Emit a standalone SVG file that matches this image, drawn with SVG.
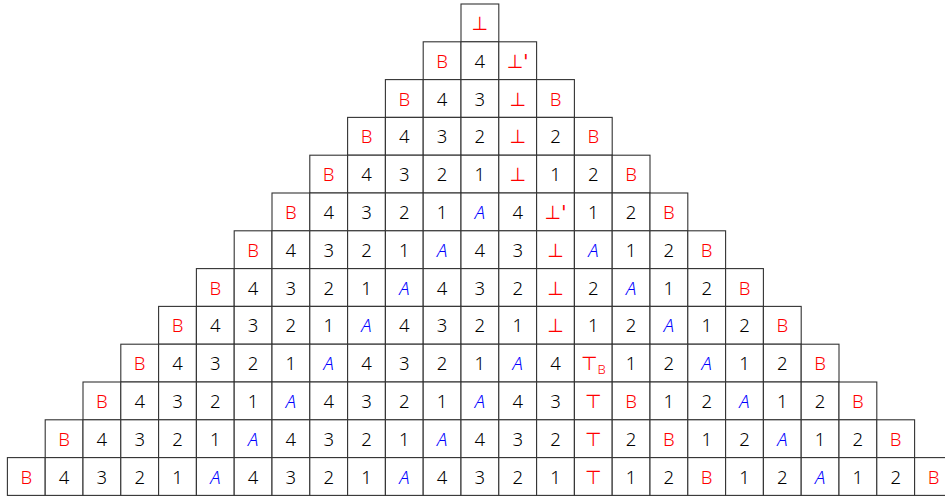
<svg xmlns="http://www.w3.org/2000/svg" width="945" height="497" viewBox="0 0 945 497">
<style>
.c{fill:#fff;stroke:#333;stroke-width:1.1}
text{font-family:"Noto Sans","DejaVu Sans",sans-serif;font-size:18.5px;font-weight:350;text-anchor:middle}
.k{fill:#000}
.r{fill:#f00}
.a{fill:#00f;font-style:italic}
.s{font-family:"DejaVu Sans",sans-serif;font-size:19px;font-weight:400}
.sub{font-size:13px;font-family:"Noto Sans",sans-serif;font-weight:350}
</style>
<rect width="945" height="497" fill="#fff"/>
<g id="row0" transform="translate(461,4)">
<g id="n0-0"><rect class="c" width="37.8" height="37.8"/><text class="r s" x="18.9" y="26">⊥</text></g>
</g>
<g id="row1" transform="translate(423.2,41.8)">
<g id="n1-0"><rect class="c" width="37.8" height="37.8"/><text class="r" x="18.9" y="26">B</text></g>
<g id="n1-1" transform="translate(37.8,0)"><rect class="c" width="37.8" height="37.8"/><text class="k" x="18.9" y="26">4</text></g>
<g id="n1-2" transform="translate(75.6,0)"><rect class="c" width="37.8" height="37.8"/><text class="r s" x="18.9" y="26">⊥'</text></g>
</g>
<g id="row2" transform="translate(385.4,79.6)">
<g id="n2-0"><rect class="c" width="37.8" height="37.8"/><text class="r" x="18.9" y="26">B</text></g>
<g id="n2-1" transform="translate(37.8,0)"><rect class="c" width="37.8" height="37.8"/><text class="k" x="18.9" y="26">4</text></g>
<g id="n2-2" transform="translate(75.6,0)"><rect class="c" width="37.8" height="37.8"/><text class="k" x="18.9" y="26">3</text></g>
<g id="n2-3" transform="translate(113.4,0)"><rect class="c" width="37.8" height="37.8"/><text class="r s" x="18.9" y="26">⊥</text></g>
<g id="n2-4" transform="translate(151.2,0)"><rect class="c" width="37.8" height="37.8"/><text class="r" x="18.9" y="26">B</text></g>
</g>
<g id="row3" transform="translate(347.6,117.4)">
<g id="n3-0"><rect class="c" width="37.8" height="37.8"/><text class="r" x="18.9" y="26">B</text></g>
<g id="n3-1" transform="translate(37.8,0)"><rect class="c" width="37.8" height="37.8"/><text class="k" x="18.9" y="26">4</text></g>
<g id="n3-2" transform="translate(75.6,0)"><rect class="c" width="37.8" height="37.8"/><text class="k" x="18.9" y="26">3</text></g>
<g id="n3-3" transform="translate(113.4,0)"><rect class="c" width="37.8" height="37.8"/><text class="k" x="18.9" y="26">2</text></g>
<g id="n3-4" transform="translate(151.2,0)"><rect class="c" width="37.8" height="37.8"/><text class="r s" x="18.9" y="26">⊥</text></g>
<g id="n3-5" transform="translate(189,0)"><rect class="c" width="37.8" height="37.8"/><text class="k" x="18.9" y="26">2</text></g>
<g id="n3-6" transform="translate(226.8,0)"><rect class="c" width="37.8" height="37.8"/><text class="r" x="18.9" y="26">B</text></g>
</g>
<g id="row4" transform="translate(309.8,155.2)">
<g id="n4-0"><rect class="c" width="37.8" height="37.8"/><text class="r" x="18.9" y="26">B</text></g>
<g id="n4-1" transform="translate(37.8,0)"><rect class="c" width="37.8" height="37.8"/><text class="k" x="18.9" y="26">4</text></g>
<g id="n4-2" transform="translate(75.6,0)"><rect class="c" width="37.8" height="37.8"/><text class="k" x="18.9" y="26">3</text></g>
<g id="n4-3" transform="translate(113.4,0)"><rect class="c" width="37.8" height="37.8"/><text class="k" x="18.9" y="26">2</text></g>
<g id="n4-4" transform="translate(151.2,0)"><rect class="c" width="37.8" height="37.8"/><text class="k" x="18.9" y="26">1</text></g>
<g id="n4-5" transform="translate(189,0)"><rect class="c" width="37.8" height="37.8"/><text class="r s" x="18.9" y="26">⊥</text></g>
<g id="n4-6" transform="translate(226.8,0)"><rect class="c" width="37.8" height="37.8"/><text class="k" x="18.9" y="26">1</text></g>
<g id="n4-7" transform="translate(264.6,0)"><rect class="c" width="37.8" height="37.8"/><text class="k" x="18.9" y="26">2</text></g>
<g id="n4-8" transform="translate(302.4,0)"><rect class="c" width="37.8" height="37.8"/><text class="r" x="18.9" y="26">B</text></g>
</g>
<g id="row5" transform="translate(272,193)">
<g id="n5-0"><rect class="c" width="37.8" height="37.8"/><text class="r" x="18.9" y="26">B</text></g>
<g id="n5-1" transform="translate(37.8,0)"><rect class="c" width="37.8" height="37.8"/><text class="k" x="18.9" y="26">4</text></g>
<g id="n5-2" transform="translate(75.6,0)"><rect class="c" width="37.8" height="37.8"/><text class="k" x="18.9" y="26">3</text></g>
<g id="n5-3" transform="translate(113.4,0)"><rect class="c" width="37.8" height="37.8"/><text class="k" x="18.9" y="26">2</text></g>
<g id="n5-4" transform="translate(151.2,0)"><rect class="c" width="37.8" height="37.8"/><text class="k" x="18.9" y="26">1</text></g>
<g id="n5-5" transform="translate(189,0)"><rect class="c" width="37.8" height="37.8"/><text class="a" x="18.9" y="26">A</text></g>
<g id="n5-6" transform="translate(226.8,0)"><rect class="c" width="37.8" height="37.8"/><text class="k" x="18.9" y="26">4</text></g>
<g id="n5-7" transform="translate(264.6,0)"><rect class="c" width="37.8" height="37.8"/><text class="r s" x="18.9" y="26">⊥'</text></g>
<g id="n5-8" transform="translate(302.4,0)"><rect class="c" width="37.8" height="37.8"/><text class="k" x="18.9" y="26">1</text></g>
<g id="n5-9" transform="translate(340.2,0)"><rect class="c" width="37.8" height="37.8"/><text class="k" x="18.9" y="26">2</text></g>
<g id="n5-10" transform="translate(378,0)"><rect class="c" width="37.8" height="37.8"/><text class="r" x="18.9" y="26">B</text></g>
</g>
<g id="row6" transform="translate(234.2,230.8)">
<g id="n6-0"><rect class="c" width="37.8" height="37.8"/><text class="r" x="18.9" y="26">B</text></g>
<g id="n6-1" transform="translate(37.8,0)"><rect class="c" width="37.8" height="37.8"/><text class="k" x="18.9" y="26">4</text></g>
<g id="n6-2" transform="translate(75.6,0)"><rect class="c" width="37.8" height="37.8"/><text class="k" x="18.9" y="26">3</text></g>
<g id="n6-3" transform="translate(113.4,0)"><rect class="c" width="37.8" height="37.8"/><text class="k" x="18.9" y="26">2</text></g>
<g id="n6-4" transform="translate(151.2,0)"><rect class="c" width="37.8" height="37.8"/><text class="k" x="18.9" y="26">1</text></g>
<g id="n6-5" transform="translate(189,0)"><rect class="c" width="37.8" height="37.8"/><text class="a" x="18.9" y="26">A</text></g>
<g id="n6-6" transform="translate(226.8,0)"><rect class="c" width="37.8" height="37.8"/><text class="k" x="18.9" y="26">4</text></g>
<g id="n6-7" transform="translate(264.6,0)"><rect class="c" width="37.8" height="37.8"/><text class="k" x="18.9" y="26">3</text></g>
<g id="n6-8" transform="translate(302.4,0)"><rect class="c" width="37.8" height="37.8"/><text class="r s" x="18.9" y="26">⊥</text></g>
<g id="n6-9" transform="translate(340.2,0)"><rect class="c" width="37.8" height="37.8"/><text class="a" x="18.9" y="26">A</text></g>
<g id="n6-10" transform="translate(378,0)"><rect class="c" width="37.8" height="37.8"/><text class="k" x="18.9" y="26">1</text></g>
<g id="n6-11" transform="translate(415.8,0)"><rect class="c" width="37.8" height="37.8"/><text class="k" x="18.9" y="26">2</text></g>
<g id="n6-12" transform="translate(453.6,0)"><rect class="c" width="37.8" height="37.8"/><text class="r" x="18.9" y="26">B</text></g>
</g>
<g id="row7" transform="translate(196.4,268.6)">
<g id="n7-0"><rect class="c" width="37.8" height="37.8"/><text class="r" x="18.9" y="26">B</text></g>
<g id="n7-1" transform="translate(37.8,0)"><rect class="c" width="37.8" height="37.8"/><text class="k" x="18.9" y="26">4</text></g>
<g id="n7-2" transform="translate(75.6,0)"><rect class="c" width="37.8" height="37.8"/><text class="k" x="18.9" y="26">3</text></g>
<g id="n7-3" transform="translate(113.4,0)"><rect class="c" width="37.8" height="37.8"/><text class="k" x="18.9" y="26">2</text></g>
<g id="n7-4" transform="translate(151.2,0)"><rect class="c" width="37.8" height="37.8"/><text class="k" x="18.9" y="26">1</text></g>
<g id="n7-5" transform="translate(189,0)"><rect class="c" width="37.8" height="37.8"/><text class="a" x="18.9" y="26">A</text></g>
<g id="n7-6" transform="translate(226.8,0)"><rect class="c" width="37.8" height="37.8"/><text class="k" x="18.9" y="26">4</text></g>
<g id="n7-7" transform="translate(264.6,0)"><rect class="c" width="37.8" height="37.8"/><text class="k" x="18.9" y="26">3</text></g>
<g id="n7-8" transform="translate(302.4,0)"><rect class="c" width="37.8" height="37.8"/><text class="k" x="18.9" y="26">2</text></g>
<g id="n7-9" transform="translate(340.2,0)"><rect class="c" width="37.8" height="37.8"/><text class="r s" x="18.9" y="26">⊥</text></g>
<g id="n7-10" transform="translate(378,0)"><rect class="c" width="37.8" height="37.8"/><text class="k" x="18.9" y="26">2</text></g>
<g id="n7-11" transform="translate(415.8,0)"><rect class="c" width="37.8" height="37.8"/><text class="a" x="18.9" y="26">A</text></g>
<g id="n7-12" transform="translate(453.6,0)"><rect class="c" width="37.8" height="37.8"/><text class="k" x="18.9" y="26">1</text></g>
<g id="n7-13" transform="translate(491.4,0)"><rect class="c" width="37.8" height="37.8"/><text class="k" x="18.9" y="26">2</text></g>
<g id="n7-14" transform="translate(529.2,0)"><rect class="c" width="37.8" height="37.8"/><text class="r" x="18.9" y="26">B</text></g>
</g>
<g id="row8" transform="translate(158.6,306.4)">
<g id="n8-0"><rect class="c" width="37.8" height="37.8"/><text class="r" x="18.9" y="26">B</text></g>
<g id="n8-1" transform="translate(37.8,0)"><rect class="c" width="37.8" height="37.8"/><text class="k" x="18.9" y="26">4</text></g>
<g id="n8-2" transform="translate(75.6,0)"><rect class="c" width="37.8" height="37.8"/><text class="k" x="18.9" y="26">3</text></g>
<g id="n8-3" transform="translate(113.4,0)"><rect class="c" width="37.8" height="37.8"/><text class="k" x="18.9" y="26">2</text></g>
<g id="n8-4" transform="translate(151.2,0)"><rect class="c" width="37.8" height="37.8"/><text class="k" x="18.9" y="26">1</text></g>
<g id="n8-5" transform="translate(189,0)"><rect class="c" width="37.8" height="37.8"/><text class="a" x="18.9" y="26">A</text></g>
<g id="n8-6" transform="translate(226.8,0)"><rect class="c" width="37.8" height="37.8"/><text class="k" x="18.9" y="26">4</text></g>
<g id="n8-7" transform="translate(264.6,0)"><rect class="c" width="37.8" height="37.8"/><text class="k" x="18.9" y="26">3</text></g>
<g id="n8-8" transform="translate(302.4,0)"><rect class="c" width="37.8" height="37.8"/><text class="k" x="18.9" y="26">2</text></g>
<g id="n8-9" transform="translate(340.2,0)"><rect class="c" width="37.8" height="37.8"/><text class="k" x="18.9" y="26">1</text></g>
<g id="n8-10" transform="translate(378,0)"><rect class="c" width="37.8" height="37.8"/><text class="r s" x="18.9" y="26">⊥</text></g>
<g id="n8-11" transform="translate(415.8,0)"><rect class="c" width="37.8" height="37.8"/><text class="k" x="18.9" y="26">1</text></g>
<g id="n8-12" transform="translate(453.6,0)"><rect class="c" width="37.8" height="37.8"/><text class="k" x="18.9" y="26">2</text></g>
<g id="n8-13" transform="translate(491.4,0)"><rect class="c" width="37.8" height="37.8"/><text class="a" x="18.9" y="26">A</text></g>
<g id="n8-14" transform="translate(529.2,0)"><rect class="c" width="37.8" height="37.8"/><text class="k" x="18.9" y="26">1</text></g>
<g id="n8-15" transform="translate(567,0)"><rect class="c" width="37.8" height="37.8"/><text class="k" x="18.9" y="26">2</text></g>
<g id="n8-16" transform="translate(604.8,0)"><rect class="c" width="37.8" height="37.8"/><text class="r" x="18.9" y="26">B</text></g>
</g>
<g id="row9" transform="translate(120.8,344.2)">
<g id="n9-0"><rect class="c" width="37.8" height="37.8"/><text class="r" x="18.9" y="26">B</text></g>
<g id="n9-1" transform="translate(37.8,0)"><rect class="c" width="37.8" height="37.8"/><text class="k" x="18.9" y="26">4</text></g>
<g id="n9-2" transform="translate(75.6,0)"><rect class="c" width="37.8" height="37.8"/><text class="k" x="18.9" y="26">3</text></g>
<g id="n9-3" transform="translate(113.4,0)"><rect class="c" width="37.8" height="37.8"/><text class="k" x="18.9" y="26">2</text></g>
<g id="n9-4" transform="translate(151.2,0)"><rect class="c" width="37.8" height="37.8"/><text class="k" x="18.9" y="26">1</text></g>
<g id="n9-5" transform="translate(189,0)"><rect class="c" width="37.8" height="37.8"/><text class="a" x="18.9" y="26">A</text></g>
<g id="n9-6" transform="translate(226.8,0)"><rect class="c" width="37.8" height="37.8"/><text class="k" x="18.9" y="26">4</text></g>
<g id="n9-7" transform="translate(264.6,0)"><rect class="c" width="37.8" height="37.8"/><text class="k" x="18.9" y="26">3</text></g>
<g id="n9-8" transform="translate(302.4,0)"><rect class="c" width="37.8" height="37.8"/><text class="k" x="18.9" y="26">2</text></g>
<g id="n9-9" transform="translate(340.2,0)"><rect class="c" width="37.8" height="37.8"/><text class="k" x="18.9" y="26">1</text></g>
<g id="n9-10" transform="translate(378,0)"><rect class="c" width="37.8" height="37.8"/><text class="a" x="18.9" y="26">A</text></g>
<g id="n9-11" transform="translate(415.8,0)"><rect class="c" width="37.8" height="37.8"/><text class="k" x="18.9" y="26">4</text></g>
<g id="n9-12" transform="translate(453.6,0)"><rect class="c" width="37.8" height="37.8"/><text class="r s" x="18.9" y="26">⊤<tspan class="sub" dy="4">B</tspan></text></g>
<g id="n9-13" transform="translate(491.4,0)"><rect class="c" width="37.8" height="37.8"/><text class="k" x="18.9" y="26">1</text></g>
<g id="n9-14" transform="translate(529.2,0)"><rect class="c" width="37.8" height="37.8"/><text class="k" x="18.9" y="26">2</text></g>
<g id="n9-15" transform="translate(567,0)"><rect class="c" width="37.8" height="37.8"/><text class="a" x="18.9" y="26">A</text></g>
<g id="n9-16" transform="translate(604.8,0)"><rect class="c" width="37.8" height="37.8"/><text class="k" x="18.9" y="26">1</text></g>
<g id="n9-17" transform="translate(642.6,0)"><rect class="c" width="37.8" height="37.8"/><text class="k" x="18.9" y="26">2</text></g>
<g id="n9-18" transform="translate(680.4,0)"><rect class="c" width="37.8" height="37.8"/><text class="r" x="18.9" y="26">B</text></g>
</g>
<g id="row10" transform="translate(83,382)">
<g id="n10-0"><rect class="c" width="37.8" height="37.8"/><text class="r" x="18.9" y="26">B</text></g>
<g id="n10-1" transform="translate(37.8,0)"><rect class="c" width="37.8" height="37.8"/><text class="k" x="18.9" y="26">4</text></g>
<g id="n10-2" transform="translate(75.6,0)"><rect class="c" width="37.8" height="37.8"/><text class="k" x="18.9" y="26">3</text></g>
<g id="n10-3" transform="translate(113.4,0)"><rect class="c" width="37.8" height="37.8"/><text class="k" x="18.9" y="26">2</text></g>
<g id="n10-4" transform="translate(151.2,0)"><rect class="c" width="37.8" height="37.8"/><text class="k" x="18.9" y="26">1</text></g>
<g id="n10-5" transform="translate(189,0)"><rect class="c" width="37.8" height="37.8"/><text class="a" x="18.9" y="26">A</text></g>
<g id="n10-6" transform="translate(226.8,0)"><rect class="c" width="37.8" height="37.8"/><text class="k" x="18.9" y="26">4</text></g>
<g id="n10-7" transform="translate(264.6,0)"><rect class="c" width="37.8" height="37.8"/><text class="k" x="18.9" y="26">3</text></g>
<g id="n10-8" transform="translate(302.4,0)"><rect class="c" width="37.8" height="37.8"/><text class="k" x="18.9" y="26">2</text></g>
<g id="n10-9" transform="translate(340.2,0)"><rect class="c" width="37.8" height="37.8"/><text class="k" x="18.9" y="26">1</text></g>
<g id="n10-10" transform="translate(378,0)"><rect class="c" width="37.8" height="37.8"/><text class="a" x="18.9" y="26">A</text></g>
<g id="n10-11" transform="translate(415.8,0)"><rect class="c" width="37.8" height="37.8"/><text class="k" x="18.9" y="26">4</text></g>
<g id="n10-12" transform="translate(453.6,0)"><rect class="c" width="37.8" height="37.8"/><text class="k" x="18.9" y="26">3</text></g>
<g id="n10-13" transform="translate(491.4,0)"><rect class="c" width="37.8" height="37.8"/><text class="r s" x="18.9" y="26">⊤</text></g>
<g id="n10-14" transform="translate(529.2,0)"><rect class="c" width="37.8" height="37.8"/><text class="r" x="18.9" y="26">B</text></g>
<g id="n10-15" transform="translate(567,0)"><rect class="c" width="37.8" height="37.8"/><text class="k" x="18.9" y="26">1</text></g>
<g id="n10-16" transform="translate(604.8,0)"><rect class="c" width="37.8" height="37.8"/><text class="k" x="18.9" y="26">2</text></g>
<g id="n10-17" transform="translate(642.6,0)"><rect class="c" width="37.8" height="37.8"/><text class="a" x="18.9" y="26">A</text></g>
<g id="n10-18" transform="translate(680.4,0)"><rect class="c" width="37.8" height="37.8"/><text class="k" x="18.9" y="26">1</text></g>
<g id="n10-19" transform="translate(718.2,0)"><rect class="c" width="37.8" height="37.8"/><text class="k" x="18.9" y="26">2</text></g>
<g id="n10-20" transform="translate(756,0)"><rect class="c" width="37.8" height="37.8"/><text class="r" x="18.9" y="26">B</text></g>
</g>
<g id="row11" transform="translate(45.2,419.8)">
<g id="n11-0"><rect class="c" width="37.8" height="37.8"/><text class="r" x="18.9" y="26">B</text></g>
<g id="n11-1" transform="translate(37.8,0)"><rect class="c" width="37.8" height="37.8"/><text class="k" x="18.9" y="26">4</text></g>
<g id="n11-2" transform="translate(75.6,0)"><rect class="c" width="37.8" height="37.8"/><text class="k" x="18.9" y="26">3</text></g>
<g id="n11-3" transform="translate(113.4,0)"><rect class="c" width="37.8" height="37.8"/><text class="k" x="18.9" y="26">2</text></g>
<g id="n11-4" transform="translate(151.2,0)"><rect class="c" width="37.8" height="37.8"/><text class="k" x="18.9" y="26">1</text></g>
<g id="n11-5" transform="translate(189,0)"><rect class="c" width="37.8" height="37.8"/><text class="a" x="18.9" y="26">A</text></g>
<g id="n11-6" transform="translate(226.8,0)"><rect class="c" width="37.8" height="37.8"/><text class="k" x="18.9" y="26">4</text></g>
<g id="n11-7" transform="translate(264.6,0)"><rect class="c" width="37.8" height="37.8"/><text class="k" x="18.9" y="26">3</text></g>
<g id="n11-8" transform="translate(302.4,0)"><rect class="c" width="37.8" height="37.8"/><text class="k" x="18.9" y="26">2</text></g>
<g id="n11-9" transform="translate(340.2,0)"><rect class="c" width="37.8" height="37.8"/><text class="k" x="18.9" y="26">1</text></g>
<g id="n11-10" transform="translate(378,0)"><rect class="c" width="37.8" height="37.8"/><text class="a" x="18.9" y="26">A</text></g>
<g id="n11-11" transform="translate(415.8,0)"><rect class="c" width="37.8" height="37.8"/><text class="k" x="18.9" y="26">4</text></g>
<g id="n11-12" transform="translate(453.6,0)"><rect class="c" width="37.8" height="37.8"/><text class="k" x="18.9" y="26">3</text></g>
<g id="n11-13" transform="translate(491.4,0)"><rect class="c" width="37.8" height="37.8"/><text class="k" x="18.9" y="26">2</text></g>
<g id="n11-14" transform="translate(529.2,0)"><rect class="c" width="37.8" height="37.8"/><text class="r s" x="18.9" y="26">⊤</text></g>
<g id="n11-15" transform="translate(567,0)"><rect class="c" width="37.8" height="37.8"/><text class="k" x="18.9" y="26">2</text></g>
<g id="n11-16" transform="translate(604.8,0)"><rect class="c" width="37.8" height="37.8"/><text class="r" x="18.9" y="26">B</text></g>
<g id="n11-17" transform="translate(642.6,0)"><rect class="c" width="37.8" height="37.8"/><text class="k" x="18.9" y="26">1</text></g>
<g id="n11-18" transform="translate(680.4,0)"><rect class="c" width="37.8" height="37.8"/><text class="k" x="18.9" y="26">2</text></g>
<g id="n11-19" transform="translate(718.2,0)"><rect class="c" width="37.8" height="37.8"/><text class="a" x="18.9" y="26">A</text></g>
<g id="n11-20" transform="translate(756,0)"><rect class="c" width="37.8" height="37.8"/><text class="k" x="18.9" y="26">1</text></g>
<g id="n11-21" transform="translate(793.8,0)"><rect class="c" width="37.8" height="37.8"/><text class="k" x="18.9" y="26">2</text></g>
<g id="n11-22" transform="translate(831.6,0)"><rect class="c" width="37.8" height="37.8"/><text class="r" x="18.9" y="26">B</text></g>
</g>
<g id="row12" transform="translate(7.4,457.6)">
<g id="n12-0"><rect class="c" width="37.8" height="37.8"/><text class="r" x="18.9" y="26">B</text></g>
<g id="n12-1" transform="translate(37.8,0)"><rect class="c" width="37.8" height="37.8"/><text class="k" x="18.9" y="26">4</text></g>
<g id="n12-2" transform="translate(75.6,0)"><rect class="c" width="37.8" height="37.8"/><text class="k" x="18.9" y="26">3</text></g>
<g id="n12-3" transform="translate(113.4,0)"><rect class="c" width="37.8" height="37.8"/><text class="k" x="18.9" y="26">2</text></g>
<g id="n12-4" transform="translate(151.2,0)"><rect class="c" width="37.8" height="37.8"/><text class="k" x="18.9" y="26">1</text></g>
<g id="n12-5" transform="translate(189,0)"><rect class="c" width="37.8" height="37.8"/><text class="a" x="18.9" y="26">A</text></g>
<g id="n12-6" transform="translate(226.8,0)"><rect class="c" width="37.8" height="37.8"/><text class="k" x="18.9" y="26">4</text></g>
<g id="n12-7" transform="translate(264.6,0)"><rect class="c" width="37.8" height="37.8"/><text class="k" x="18.9" y="26">3</text></g>
<g id="n12-8" transform="translate(302.4,0)"><rect class="c" width="37.8" height="37.8"/><text class="k" x="18.9" y="26">2</text></g>
<g id="n12-9" transform="translate(340.2,0)"><rect class="c" width="37.8" height="37.8"/><text class="k" x="18.9" y="26">1</text></g>
<g id="n12-10" transform="translate(378,0)"><rect class="c" width="37.8" height="37.8"/><text class="a" x="18.9" y="26">A</text></g>
<g id="n12-11" transform="translate(415.8,0)"><rect class="c" width="37.8" height="37.8"/><text class="k" x="18.9" y="26">4</text></g>
<g id="n12-12" transform="translate(453.6,0)"><rect class="c" width="37.8" height="37.8"/><text class="k" x="18.9" y="26">3</text></g>
<g id="n12-13" transform="translate(491.4,0)"><rect class="c" width="37.8" height="37.8"/><text class="k" x="18.9" y="26">2</text></g>
<g id="n12-14" transform="translate(529.2,0)"><rect class="c" width="37.8" height="37.8"/><text class="k" x="18.9" y="26">1</text></g>
<g id="n12-15" transform="translate(567,0)"><rect class="c" width="37.8" height="37.8"/><text class="r s" x="18.9" y="26">⊤</text></g>
<g id="n12-16" transform="translate(604.8,0)"><rect class="c" width="37.8" height="37.8"/><text class="k" x="18.9" y="26">1</text></g>
<g id="n12-17" transform="translate(642.6,0)"><rect class="c" width="37.8" height="37.8"/><text class="k" x="18.9" y="26">2</text></g>
<g id="n12-18" transform="translate(680.4,0)"><rect class="c" width="37.8" height="37.8"/><text class="r" x="18.9" y="26">B</text></g>
<g id="n12-19" transform="translate(718.2,0)"><rect class="c" width="37.8" height="37.8"/><text class="k" x="18.9" y="26">1</text></g>
<g id="n12-20" transform="translate(756,0)"><rect class="c" width="37.8" height="37.8"/><text class="k" x="18.9" y="26">2</text></g>
<g id="n12-21" transform="translate(793.8,0)"><rect class="c" width="37.8" height="37.8"/><text class="a" x="18.9" y="26">A</text></g>
<g id="n12-22" transform="translate(831.6,0)"><rect class="c" width="37.8" height="37.8"/><text class="k" x="18.9" y="26">1</text></g>
<g id="n12-23" transform="translate(869.4,0)"><rect class="c" width="37.8" height="37.8"/><text class="k" x="18.9" y="26">2</text></g>
<g id="n12-24" transform="translate(907.2,0)"><rect class="c" width="37.8" height="37.8"/><text class="r" x="18.9" y="26">B</text></g>
</g>
</svg>
